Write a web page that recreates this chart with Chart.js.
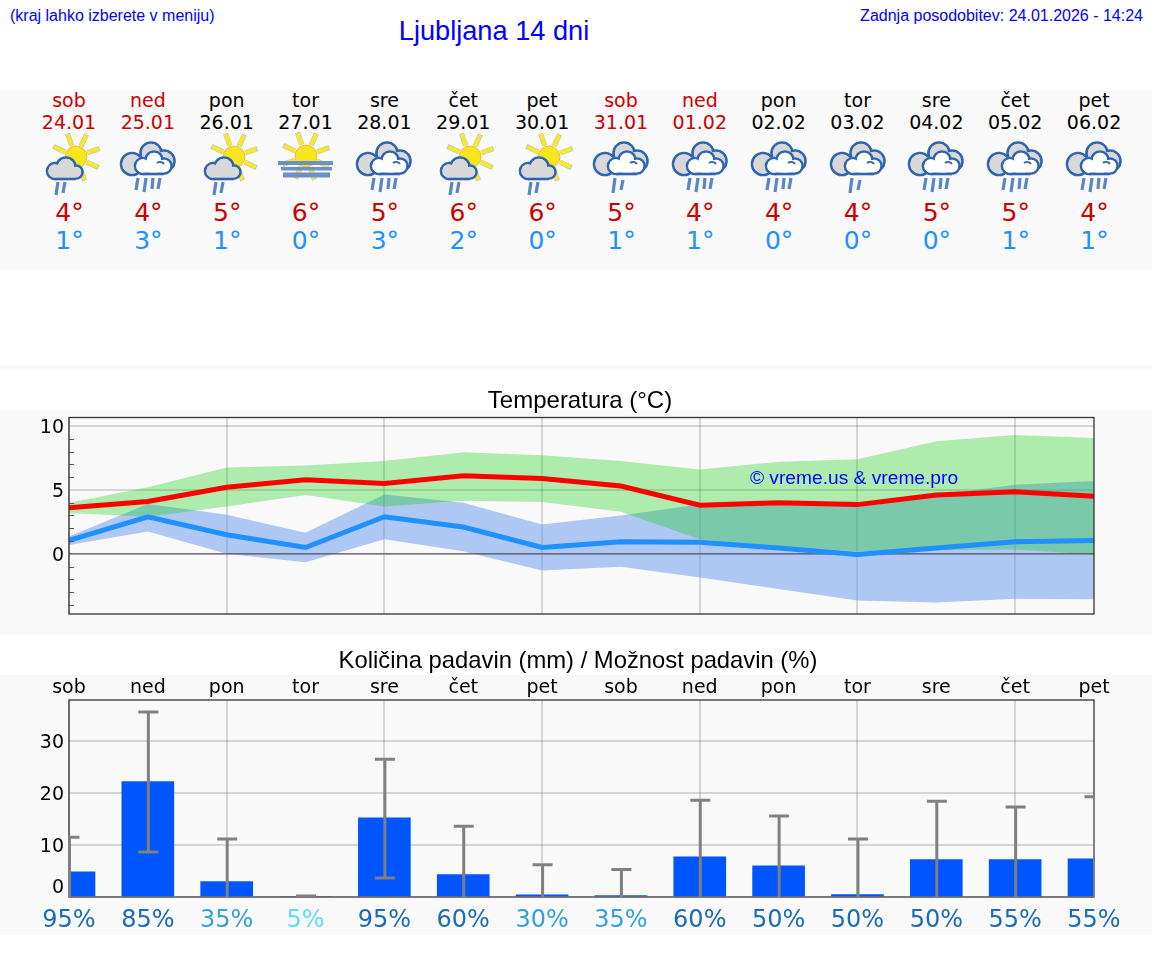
<!DOCTYPE html>
<html lang="sl">
<head>
<meta charset="utf-8">
<title>Ljubljana 14 dni</title>
<script src="https://cdn.jsdelivr.net/npm/chart.js@4/dist/chart.umd.js"></script>
<style>
html, body { margin: 0; padding: 0; background: #fff; }
body { position: relative; width: 1152px; height: 975px; overflow: hidden; font-family: "DejaVu Sans", sans-serif; }
.band { position: absolute; left: 0; width: 1152px; background: #f9f9f9; }
.txt { position: absolute; white-space: nowrap; line-height: 1; }
.arial { font-family: "Liberation Sans", Arial, sans-serif; }
.c { transform: translate(-50%, -50%); }
.head { color: #0000ff; }
canvas { position: absolute; left: 0; }
svg.icon { position: absolute; width: 60px; height: 70px; top: 130px; overflow: visible; }
</style>
</head>
<body>
<div class="band" style="top:90px;height:180px"></div>
<div class="band" style="top:365px;height:5px"></div>
<div class="band" style="top:410px;height:225px"></div>
<div class="band" style="top:675px;height:260px"></div>

<div class="txt arial head" style="left:10px;top:8px;font-size:16px">(kraj lahko izberete v meniju)</div>
<div class="txt arial head c" style="left:494px;top:31px;font-size:27.2px">Ljubljana 14 dni</div>
<div class="txt arial head" style="right:9px;top:8px;font-size:16px">Zadnja posodobitev: 24.01.2026 - 14:24</div>
<div class="txt arial c" style="left:580px;top:400px;font-size:24px;color:#000;z-index:2">Temperatura (°C)</div>
<div class="txt arial c" style="left:578px;top:660px;font-size:23.8px;color:#000;z-index:2">Količina padavin (mm) / Možnost padavin (%)</div>

<svg width="0" height="0" style="position:absolute">
  <defs>
    <g id="rays">
      <g transform="rotate(-20)">
        <g stroke="#b9b48c" stroke-width="5.2" opacity=".7">
          <line x1="12" x2="25" transform="rotate(0)"/><line x1="12" x2="25" transform="rotate(45)"/>
          <line x1="12" x2="25" transform="rotate(90)"/><line x1="12" x2="25" transform="rotate(135)"/>
          <line x1="12" x2="25" transform="rotate(180)"/><line x1="12" x2="25" transform="rotate(225)"/>
          <line x1="12" x2="25" transform="rotate(270)"/><line x1="12" x2="25" transform="rotate(315)"/>
        </g>
        <g stroke="#f5e92c" stroke-width="3.8">
          <line x1="12" x2="24" transform="rotate(0)"/><line x1="12" x2="24" transform="rotate(45)"/>
          <line x1="12" x2="24" transform="rotate(90)"/><line x1="12" x2="24" transform="rotate(135)"/>
          <line x1="12" x2="24" transform="rotate(180)"/><line x1="12" x2="24" transform="rotate(225)"/>
          <line x1="12" x2="24" transform="rotate(270)"/><line x1="12" x2="24" transform="rotate(315)"/>
        </g>
      </g>
      <circle r="11" fill="#f5e61e" stroke="#f0b84a" stroke-width="1"/>
    </g>
    <g id="cloudBig">
      <g fill="#d8d8d8" stroke="#2f64b0" stroke-width="2.6">
        <circle cx="-16" cy="34" r="11"/><circle cx="3" cy="23" r="10.5"/><circle cx="16" cy="31" r="10.5"/>
      </g>
      <g fill="#d8d8d8">
        <circle cx="-16" cy="34" r="9.7"/><circle cx="3" cy="23" r="9.2"/><circle cx="16" cy="31" r="9.2"/>
      </g>
      <g fill="#fff" stroke="#2f64b0" stroke-width="2.6">
        <circle cx="-5" cy="36" r="8"/><circle cx="6" cy="30" r="8.5"/><circle cx="16" cy="36" r="7.5"/>
      </g>
      <g fill="#fff">
        <circle cx="-5" cy="36" r="6.7"/><circle cx="6" cy="30" r="7.2"/><circle cx="16" cy="36" r="6.2"/>
        <rect x="-5" y="33" width="21" height="9.7"/>
      </g>
      <path d="M-5 44H16" stroke="#2f64b0" stroke-width="2.6"/>
      <path d="M9 33a5 5 0 0 1 7 1" stroke="#2f64b0" stroke-width="2" fill="none"/>
    </g>
    <symbol id="ico-sunrain" viewBox="-30 0 60 70" overflow="visible">
      <use href="#rays" transform="translate(7 27)"/>
      <g fill="#d8d8d8" stroke="#2f64b0" stroke-width="2.6">
        <circle cx="-14" cy="41" r="8"/><circle cx="-3" cy="37" r="9.5"/><circle cx="7" cy="42" r="6.5"/>
      </g>
      <g fill="#d8d8d8">
        <circle cx="-14" cy="41" r="6.7"/><circle cx="-3" cy="37" r="8.2"/><circle cx="7" cy="42" r="5.2"/>
        <rect x="-14" y="40" width="21" height="8.7"/>
      </g>
      <path d="M-14 49H7" stroke="#2f64b0" stroke-width="2.6"/>
      <path d="M-11 52 L-13 65 M-4 52 L-6 63" stroke="#5b86c5" stroke-width="3.2" fill="none"/>
    </symbol>
    <symbol id="ico-rain4" viewBox="-30 0 60 70" overflow="visible">
      <use href="#cloudBig"/>
      <path d="M-10 48 L-12 60 M-2 48 L-4 62 M5 48 L4 59 M12 48 L10 59" stroke="#5b86c5" stroke-width="3.2" fill="none"/>
    </symbol>
    <symbol id="ico-rain2" viewBox="-30 0 60 70" overflow="visible">
      <use href="#cloudBig"/>
      <path d="M-6 48 L-8 63 M2 50 L0 60" stroke="#5b86c5" stroke-width="3.2" fill="none"/>
    </symbol>
    <symbol id="ico-fog" viewBox="-30 0 60 70" overflow="visible">
      <use href="#rays" transform="translate(0 26)"/>
      <rect x="-28" y="31" width="55" height="4" fill="#6b8fc9"/>
      <rect x="-25" y="37" width="51" height="3.5" fill="#6b8fc9"/>
      <rect x="-23" y="42.5" width="47" height="5" fill="#6b8fc9"/>
    </symbol>
  </defs>
</svg>

<canvas id="tempChart" width="1152" height="250" style="top:390px"></canvas>
<canvas id="rainChart" width="1152" height="270" style="top:670px"></canvas>
<div class="txt arial c" style="left:854px;top:478px;font-size:19.2px;color:#0000ff;z-index:3">© vreme.us &amp; vreme.pro</div>

<script>
const days = ['sob', 'ned', 'pon', 'tor', 'sre', 'čet', 'pet', 'sob', 'ned', 'pon', 'tor', 'sre', 'čet', 'pet'];
const dates = ['24.01', '25.01', '26.01', '27.01', '28.01', '29.01', '30.01', '31.01', '01.02', '02.02', '03.02', '04.02', '05.02', '06.02'];
const highs = [4, 4, 5, 6, 5, 6, 6, 5, 4, 4, 4, 5, 5, 4];
const lows = [1, 3, 1, 0, 3, 2, 0, 1, 1, 0, 0, 0, 1, 1];
const icons = ['sunrain', 'rain4', 'sunrain', 'fog', 'rain4', 'sunrain', 'sunrain', 'rain2', 'rain4', 'rain4', 'rain2', 'rain4', 'rain4', 'rain4'];

// temperature lines and their ranges
const tempHigh = [3.6, 4.1, 5.2, 5.8, 5.5, 6.1, 5.9, 5.3, 3.8, 4.0, 3.85, 4.6, 4.85, 4.5];
const tempLow = [1.05, 2.9, 1.5, 0.5, 2.9, 2.1, 0.5, 0.95, 0.9, 0.45, -0.05, 0.45, 0.95, 1.05];
const highUpper = [4.0, 5.2, 6.75, 6.9, 7.25, 7.95, 7.7, 7.25, 6.6, 7.2, 7.4, 8.8, 9.3, 9.05];
const highLower = [3.2, 2.9, 3.7, 4.6, 3.7, 4.15, 4.05, 3.3, 1.15, 0.55, 0.2, 0.3, 0.35, -0.05];
const lowUpper = [1.35, 3.9, 3.05, 1.65, 4.65, 4.0, 2.3, 3.0, 3.85, 3.85, 3.75, 4.6, 5.4, 5.7];
const lowLower = [0.7, 1.75, 0, -0.65, 1.15, 0.2, -1.3, -1.0, -1.85, -2.75, -3.65, -3.8, -3.5, -3.55];
const zeroLine = [0, 0, 0, 0, 0, 0, 0, 0, 0, 0, 0, 0, 0, 0];

// precipitation
const rainAmount = [4.85, 22.2, 2.95, 0, 15.25, 4.3, 0.4, 0.25, 7.75, 6.0, 0.45, 7.2, 7.2, 7.35];
const rainMax = [11.5, 35.6, 11.15, 0.2, 26.5, 13.6, 6.2, 5.3, 18.6, 15.6, 11.15, 18.4, 17.3, 19.3];
const rainMin = [0, 8.65, 0, 0, 3.65, 0, 0, 0, 0, 0, 0, 0, 0, 0];
const rainChance = [95, 85, 35, 5, 95, 60, 30, 35, 60, 50, 50, 50, 55, 55];

const tempTicks = [10, 5, 0];
const rainTicks = [30, 20, 10];

const plotLeft = 69;
const dayWidth = 78.85;
const gridColor = 'rgba(0,0,0,0.14)';
const frameColor = '#333333';
const tickFont = { family: '"DejaVu Sans"', size: 19 };

function chanceColor(v)
{
    if (v >= 50) return '#1a6bb8';
    if (v >= 20) return '#35a0dc';
    return '#5fdfee';
}

function addText(str, x, y, size, color)
{
    const el = document.createElement('div');
    el.className = 'txt c';
    el.textContent = str;
    el.style.left = x + 'px';
    el.style.top = y + 'px';
    el.style.fontSize = size + 'px';
    el.style.color = color;
    document.body.appendChild(el);
}

// top strip with day names, dates, icons and min / max
days.forEach((d, i) => {
    const x = plotLeft + dayWidth * i;
    const col = (d == 'sob' || d == 'ned') ? '#cc0000' : '#000000';
    addText(d, x, 100, 19, col);
    addText(dates[i], x, 122, 19, col);
    addText(highs[i] + '°', x + 0.5, 212, 25, '#cc0000');
    addText(lows[i] + '°', x + 0.5, 240, 25, '#1e90ff');
    const svg = document.createElementNS('http://www.w3.org/2000/svg', 'svg');
    svg.setAttribute('class', 'icon');
    svg.style.left = (x - 30) + 'px';
    const use = document.createElementNS('http://www.w3.org/2000/svg', 'use');
    use.setAttribute('href', '#ico-' + icons[i]);
    use.setAttribute('width', 60);
    use.setAttribute('height', 70);
    svg.appendChild(use);
    document.body.appendChild(svg);
});

const framePlugin = {
    id: 'frame',
    afterDraw(chart) {
        const a = chart.chartArea;
        const ctx = chart.ctx;
        ctx.save();
        ctx.strokeStyle = frameColor;
        ctx.lineWidth = 1.3;
        ctx.strokeRect(a.left, a.top, a.right - a.left, a.bottom - a.top);
        ctx.restore();
    }
};

// short inner tick marks on the temperature axis
const minorTicks = {
    id: 'minorTicks',
    afterDraw(chart) {
        const y = chart.scales.y;
        const ctx = chart.ctx;
        ctx.save();
        ctx.strokeStyle = '#555555';
        ctx.lineWidth = 1;
        y.ticks.forEach(t => {
            if (t.value % 5 == 0) return;
            const py = Math.round(y.getPixelForValue(t.value)) + 0.5;
            ctx.beginPath();
            ctx.moveTo(chart.chartArea.left, py);
            ctx.lineTo(chart.chartArea.left + 5, py);
            ctx.stroke();
        });
        ctx.restore();
    }
};

// min / max whiskers of the precipitation forecast, they sit over the frame
const whiskers = {
    id: 'whiskers',
    afterDraw(chart) {
        const x = chart.scales.x;
        const y = chart.scales.y;
        const a = chart.chartArea;
        const ctx = chart.ctx;
        ctx.save();
        ctx.beginPath();
        ctx.rect(a.left - 1, a.top, a.right - a.left + 2, a.bottom - a.top);
        ctx.clip();
        ctx.strokeStyle = '#808080';
        ctx.lineWidth = 3;
        rainMax.forEach((hi, i) => {
            const px = x.getPixelForValue(i) + 0.5;
            const top = y.getPixelForValue(hi);
            const bot = y.getPixelForValue(rainMin[i]);
            ctx.beginPath();
            ctx.moveTo(px, top);
            ctx.lineTo(px, bot);
            ctx.moveTo(px - 10, top);
            ctx.lineTo(px + 10, top);
            if (rainMin[i] > 0) {
                ctx.moveTo(px - 10, bot);
                ctx.lineTo(px + 10, bot);
            }
            ctx.stroke();
        });
        ctx.restore();
    }
};

// the source moves the "0" label up so that it clears the percent row
const zeroLabel = {
    id: 'zeroLabel',
    afterDraw(chart) {
        const ctx = chart.ctx;
        const y = chart.scales.y;
        ctx.save();
        ctx.font = '19px "DejaVu Sans"';
        ctx.fillStyle = '#000000';
        ctx.textAlign = 'right';
        ctx.textBaseline = 'middle';
        ctx.fillText('0', chart.chartArea.left - 5, y.getPixelForValue(0) - 8.5);
        ctx.restore();
    }
};

function band(data, fillTo, color, order)
{
    return { data: data, fill: fillTo == null ? false : { target: fillTo }, backgroundColor: color,
             borderWidth: 0, pointRadius: 0, tension: 0, order: order };
}

function line(data, color, width, order)
{
    return { data: data, borderColor: color, borderWidth: width, pointRadius: 0, tension: 0,
             fill: false, order: order, borderCapStyle: 'butt', borderJoinStyle: 'miter' };
}

new Chart(document.getElementById('tempChart'), {
    type: 'line',
    data: {
        labels: days,
        datasets: [
            band(lowUpper, 1, 'rgba(100,149,237,0.5)', 6),
            band(lowLower, null, 'transparent', 7),
            band(highUpper, 3, 'rgba(0,205,0,0.3)', 4),
            band(highLower, null, 'transparent', 5),
            line(zeroLine, '#444444', 1, 3),
            line(tempLow, '#1e90ff', 5, 2),
            line(tempHigh, '#ff0000', 5, 1)
        ]
    },
    options: {
        responsive: false,
        animation: false,
        layout: { padding: { top: 27.5, bottom: 26, right: 58, left: 0 } },
        plugins: { legend: { display: false }, tooltip: { enabled: false } },
        scales: {
            x: {
                offset: false,
                border: { display: false },
                grid: { offset: false, lineWidth: 2, drawTicks: false, color: c => c.index % 2 == 0 ? gridColor : 'transparent' },
                ticks: { display: false, autoSkip: false }
            },
            y: {
                min: -4.7,
                max: 10.66,
                afterFit(s) { s.width = plotLeft; },
                border: { display: false },
                grid: { lineWidth: 2, drawTicks: false, color: c => tempTicks.includes(c.tick.value) ? gridColor : 'transparent' },
                ticks: {
                    stepSize: 1,
                    includeBounds: false,
                    padding: 5,
                    labelOffset: 2,
                    color: '#000000',
                    font: tickFont,
                    autoSkip: false,
                    callback: v => tempTicks.includes(v) ? String(v) : ''
                }
            }
        }
    },
    plugins: [minorTicks, framePlugin]
});

new Chart(document.getElementById('rainChart'), {
    type: 'bar',
    data: {
        labels: days,
        datasets: [{ data: rainAmount, backgroundColor: '#0055ff', barThickness: 52, xAxisID: 'x' }]
    },
    options: {
        responsive: false,
        animation: false,
        layout: { padding: { top: 0, bottom: 0, right: 58, left: 0 } },
        plugins: { legend: { display: false }, tooltip: { enabled: false } },
        scales: {
            x: {
                position: 'top',
                offset: false,
                afterFit(s) { s.height = 30; },
                border: { display: false },
                grid: { offset: false, lineWidth: 2, drawTicks: false, color: c => c.index % 2 == 0 ? gridColor : 'transparent' },
                ticks: { autoSkip: false, maxRotation: 0, padding: 1, color: '#000000', font: tickFont }
            },
            x2: {
                type: 'category',
                position: 'bottom',
                labels: rainChance.map(v => v + '%'),
                offset: false,
                afterFit(s) { s.height = 43; },
                border: { display: false },
                grid: { display: false, drawTicks: false },
                ticks: {
                    autoSkip: false,
                    maxRotation: 0,
                    padding: 9,
                    font: { family: '"DejaVu Sans"', size: 24 },
                    color: c => chanceColor(rainChance[c.index])
                }
            },
            y: {
                min: 0,
                max: 37.9,
                afterFit(s) { s.width = plotLeft; },
                border: { display: false },
                grid: { lineWidth: 2, drawTicks: false, color: c => rainTicks.includes(c.tick.value) ? gridColor : 'transparent' },
                ticks: {
                    stepSize: 10,
                    includeBounds: false,
                    padding: 5,
                    labelOffset: 2,
                    color: '#000000',
                    font: tickFont,
                    callback: v => rainTicks.includes(v) ? String(v) : ''
                }
            }
        }
    },
    plugins: [zeroLabel, framePlugin, whiskers]
});
</script>
</body>
</html>
